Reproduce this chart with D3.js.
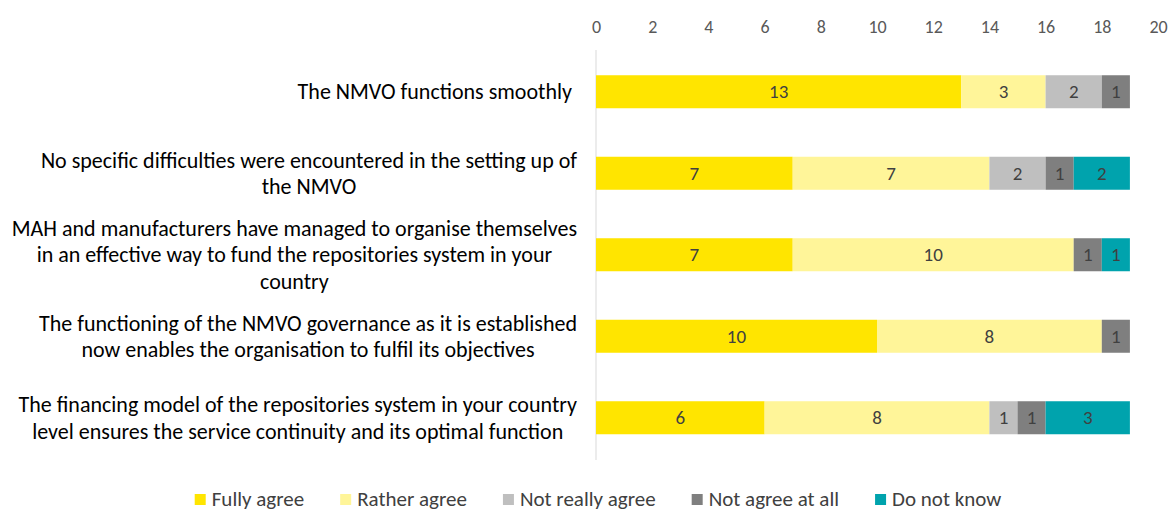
<!DOCTYPE html>
<html>
<head>
<meta charset="utf-8">
<script src="https://cdn.jsdelivr.net/npm/d3@7"></script>
<style>
  html, body { margin: 0; padding: 0; background: #fff; }
  svg { display: block; }
  text { font-family: Carlito, Lato, "Open Sans", sans-serif; }
</style>
</head>
<body>
<svg id="chart" width="1173" height="514"></svg>
<script>
// Survey statements, each split into its display lines
const categories = [
  ["The NMVO functions smoothly"],
  ["No specific difficulties were encountered in the setting up of", "the NMVO"],
  ["MAH and manufacturers have managed to organise themselves", "in an effective way to fund the repositories system in your", "country"],
  ["The functioning of the NMVO governance as it is established", "now enables the organisation to fulfil its objectives"],
  ["The financing model of the repositories system in your country", "level ensures the service continuity and its optimal function"]
];

const seriesNames = ["Fully agree", "Rather agree", "Not really agree", "Not agree at all", "Do not know"];
const seriesColors = ["#FFE500", "#FFF599", "#BFBFBF", "#7F7F7F", "#00A3AD"];

// Number of responses per answer, one array per series, in category order
const fullyAgree    = [13, 7, 7, 10, 6];
const ratherAgree   = [3, 7, 10, 8, 8];
const notReally     = [2, 2, 0, 0, 1];
const notAtAll      = [1, 1, 1, 1, 1];
const doNotKnow     = [0, 2, 1, 0, 3];

const xTicks = [0, 2, 4, 6, 8, 10, 12, 14, 16, 18, 20];

const seriesValues = [fullyAgree, ratherAgree, notReally, notAtAll, doNotKnow];

const svg = d3.select("#chart");

const x = d3.scaleLinear().domain([0, 20]).range([596, 1158]);
const y = d3.scaleBand()
  .domain(d3.range(categories.length))
  .range([51, 458.5])
  .paddingInner(0.595)
  .paddingOuter(0.2975);

// Stack the series for each category
const rows = categories.map((c, i) => {
  const r = { idx: i };
  seriesNames.forEach((s, k) => { r[s] = seriesValues[k][i]; });
  return r;
});
const stacked = d3.stack().keys(seriesNames)(rows);

// Top value axis (labels only)
const axis = d3.axisTop(x).tickValues(xTicks).tickSize(0).tickPadding(0).tickFormat(d3.format("d"));
const axG = svg.append("g").attr("transform", "translate(0,33)").call(axis);
axG.select(".domain").remove();
axG.selectAll("text")
  .attr("fill", "#595959")
  .style("font-size", "18px")
  .style("font-family", "Carlito, Lato, 'Open Sans', sans-serif");

// Category axis line
svg.append("line")
  .attr("x1", x(0)).attr("x2", x(0))
  .attr("y1", 50).attr("y2", 460)
  .attr("stroke", "#D9D9D9").attr("stroke-width", 1);

// Bars
const layers = svg.append("g").selectAll("g")
  .data(stacked).join("g")
  .attr("fill", (d, k) => seriesColors[k]);

layers.selectAll("rect")
  .data(d => d.filter(p => p[1] - p[0] > 0))
  .join("rect")
  .attr("x", p => x(p[0]))
  .attr("width", p => x(p[1]) - x(p[0]))
  .attr("y", p => y(p.data.idx))
  .attr("height", y.bandwidth());

// Value labels in the middle of each segment
layers.selectAll("text")
  .data(d => d.filter(p => p[1] - p[0] > 0))
  .join("text")
  .attr("x", p => (x(p[0]) + x(p[1])) / 2)
  .attr("y", p => y(p.data.idx) + y.bandwidth() / 2)
  .attr("dy", "0.35em")
  .attr("text-anchor", "middle")
  .attr("fill", "#404040")
  .style("font-size", "19px")
  .text(p => p[1] - p[0]);

// Category labels: block right-aligned to the axis, lines centered within block
const labelRight = 577;
const lineH = 26.5;
const labG = svg.append("g");
categories.forEach((lines, i) => {
  const g = labG.append("g");
  const cy = y(i) + y.bandwidth() / 2;
  const t = g.selectAll("text").data(lines).join("text")
    .attr("text-anchor", "middle")
    .attr("fill", "#000")
    .style("font-size", "22px")
    .attr("y", (d, j) => cy + (j - (lines.length - 1) / 2) * lineH)
    .attr("dy", "0.35em")
    .text(d => d);
  let maxW = 0;
  t.each(function () { maxW = Math.max(maxW, this.getComputedTextLength()); });
  const right = lines.length === 1 ? labelRight - 5 : labelRight;
  t.attr("x", right - maxW / 2);
});

// Legend
const legend = svg.append("g").attr("transform", "translate(0,499)");
const items = legend.selectAll("g").data(seriesNames).join("g");
items.append("rect")
  .attr("width", 11).attr("height", 11)
  .attr("y", -5)
  .attr("fill", (d, k) => seriesColors[k]);
items.append("text")
  .attr("x", 17)
  .attr("dy", "0.35em")
  .attr("fill", "#404040")
  .style("font-size", "21px")
  .text(d => d);
let offs = [], cur = 0;
items.each(function () {
  offs.push(cur);
  cur += 17 + d3.select(this).select("text").node().getComputedTextLength() + 36;
});
const total = cur - 36;
const startX = 598 - total / 2;
items.attr("transform", (d, k) => `translate(${startX + offs[k]},0)`);
</script>
</body>
</html>
